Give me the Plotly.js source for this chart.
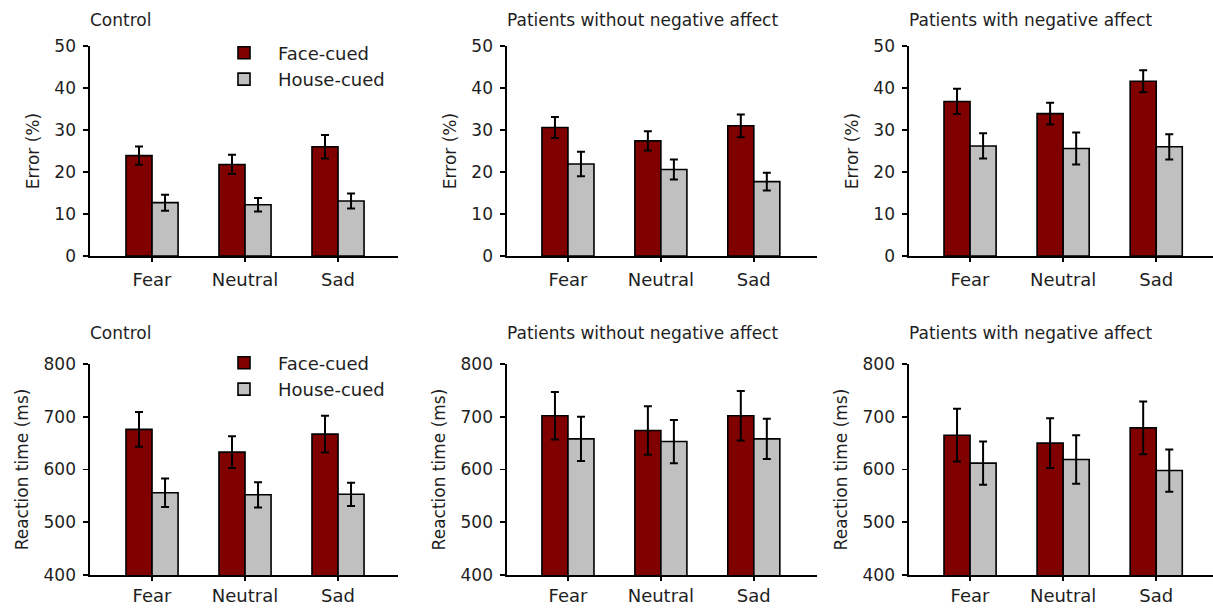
<!DOCTYPE html>
<html>
<head>
<meta charset="utf-8">
<script src="https://cdn.plot.ly/plotly-3.0.1.min.js"></script>
<style>
  html, body { margin: 0; padding: 0; background: #ffffff; }
  #chart { width: 1213px; height: 609px; }
</style>
</head>
<body>
<div id="chart"></div>
<script>
// ---------- data ----------
const categories = ['Fear', 'Neutral', 'Sad'];
const seriesNames = ['Face-cued', 'House-cued'];
const panelTitles = ['Control', 'Patients without negative affect', 'Patients with negative affect'];
const errorTitle = 'Error (%)';
const rtTitle = 'Reaction time (ms)';

const errTicks = [0, 10, 20, 30, 40, 50];
const rtTicks = [400, 500, 600, 700, 800];

// Error (%)
const errCtrlFace = [23.9, 21.8, 26.0];
const errCtrlFaceSE = [2.2, 2.3, 2.8];
const errCtrlHouse = [12.7, 12.2, 13.1];
const errCtrlHouseSE = [1.9, 1.6, 1.8];

const errNoNAFace = [30.6, 27.4, 31.0];
const errNoNAFaceSE = [2.5, 2.3, 2.7];
const errNoNAHouse = [21.9, 20.6, 17.7];
const errNoNAHouseSE = [2.9, 2.4, 2.1];

const errNAFace = [36.8, 33.9, 41.6];
const errNAFaceSE = [3.0, 2.6, 2.6];
const errNAHouse = [26.2, 25.6, 26.0];
const errNAHouseSE = [3.0, 3.8, 3.0];

// Reaction time (ms)
const rtCtrlFace = [676, 633, 667];
const rtCtrlFaceSE = [33, 30, 35];
const rtCtrlHouse = [556, 552, 553];
const rtCtrlHouseSE = [27, 24, 22];

const rtNoNAFace = [702, 674, 702];
const rtNoNAFaceSE = [45, 46, 47];
const rtNoNAHouse = [658, 653, 658];
const rtNoNAHouseSE = [42, 41, 38];

const rtNAFace = [665, 650, 679];
const rtNAFaceSE = [50, 47, 50];
const rtNAHouse = [612, 619, 598];
const rtNAHouseSE = [41, 46, 40];

// ---------- styling ----------
const W = 1213, H = 609;
const FONT = 'DejaVu Sans, Liberation Sans, Arial, sans-serif';
const TXT = '#1e1e1e';
const faceColor = '#800000';
const houseColor = '#c0c0c0';

// panel pixel boxes: [left, right] and [top, bottom]
const colPx = [[90, 398], [507, 817], [909, 1213]];
const xRanges = [[-0.667, 2.645], [-0.656, 2.68], [-0.656, 2.61]];
const rowPx = [[46, 256], [364, 575]];
const catStandoff = [3, 0];

function dom(a, b) { return [a / W, b / W]; }
function ydom(top, bottom) { return [1 - bottom / H, 1 - top / H]; }

const panels = [
  { face: errCtrlFace, faceSE: errCtrlFaceSE, house: errCtrlHouse, houseSE: errCtrlHouseSE, row: 0, col: 0, legend: 'legend' },
  { face: errNoNAFace, faceSE: errNoNAFaceSE, house: errNoNAHouse, houseSE: errNoNAHouseSE, row: 0, col: 1 },
  { face: errNAFace, faceSE: errNAFaceSE, house: errNAHouse, houseSE: errNAHouseSE, row: 0, col: 2 },
  { face: rtCtrlFace, faceSE: rtCtrlFaceSE, house: rtCtrlHouse, houseSE: rtCtrlHouseSE, row: 1, col: 0, legend: 'legend2' },
  { face: rtNoNAFace, faceSE: rtNoNAFaceSE, house: rtNoNAHouse, houseSE: rtNoNAHouseSE, row: 1, col: 1 },
  { face: rtNAFace, faceSE: rtNAFaceSE, house: rtNAHouse, houseSE: rtNAHouseSE, row: 1, col: 2 }
];

const data = [];
const layout = {
  width: W, height: H,
  margin: { l: 0, r: 0, t: 0, b: 0 },
  paper_bgcolor: '#ffffff',
  plot_bgcolor: 'rgba(0,0,0,0)',
  font: { family: FONT, size: 17, color: TXT },
  barmode: 'group',
  bargap: 0.44,
  bargroupgap: 0,
  annotations: [],
  legend: {
    x: 210 / W, xanchor: 'left', y: 1 - 66 / H, yanchor: 'middle',
    bgcolor: 'rgba(0,0,0,0)', font: { family: FONT, size: 18, color: TXT },
    itemwidth: 58, traceorder: 'normal', tracegroupgap: 0
  },
  legend2: {
    x: 210 / W, xanchor: 'left', y: 1 - 376 / H, yanchor: 'middle',
    bgcolor: 'rgba(0,0,0,0)', font: { family: FONT, size: 18, color: TXT },
    itemwidth: 58, traceorder: 'normal', tracegroupgap: 0
  }
};

const errBarStyle = { type: 'data', visible: true, color: '#000000', thickness: 2, width: 4 };

panels.forEach((p, i) => {
  const n = i + 1;
  const xa = n === 1 ? 'x' : 'x' + n;
  const ya = n === 1 ? 'y' : 'y' + n;
  const showLeg = !!p.legend;
  data.push({
    type: 'bar', name: seriesNames[0], x: categories, y: p.face,
    xaxis: xa, yaxis: ya,
    marker: { color: faceColor, line: { color: '#000000', width: 1.6 } },
    error_y: Object.assign({ array: p.faceSE }, errBarStyle),
    showlegend: showLeg, legend: p.legend || 'legend',
    hoverinfo: 'skip'
  });
  data.push({
    type: 'bar', name: seriesNames[1], x: categories, y: p.house,
    xaxis: xa, yaxis: ya,
    marker: { color: houseColor, line: { color: '#000000', width: 1.6 } },
    error_y: Object.assign({ array: p.houseSE }, errBarStyle),
    showlegend: showLeg, legend: p.legend || 'legend',
    hoverinfo: 'skip'
  });

  const isErr = p.row === 0;
  const xKey = n === 1 ? 'xaxis' : 'xaxis' + n;
  const yKey = n === 1 ? 'yaxis' : 'yaxis' + n;
  layout[xKey] = {
    domain: dom(colPx[p.col][0], colPx[p.col][1]),
    anchor: ya,
    type: 'category',
    range: xRanges[p.col],
    showline: true, linecolor: '#000000', linewidth: 1.6,
    ticks: 'outside', ticklen: 4, tickwidth: 1.6, tickcolor: '#000000',
    showgrid: false, zeroline: false,
    tickfont: { family: FONT, size: 18, color: TXT },
    ticklabelstandoff: catStandoff[p.row],
    fixedrange: true
  };
  layout[yKey] = {
    domain: ydom(rowPx[p.row][0], rowPx[p.row][1]),
    anchor: xa,
    range: isErr ? [0, 50] : [400, 800],
    tickvals: isErr ? errTicks : rtTicks,
    showline: true, linecolor: '#000000', linewidth: 1.6,
    ticks: 'outside', ticklen: 5, tickwidth: 1.6, tickcolor: '#000000',
    showgrid: false, zeroline: false,
    tickfont: { family: FONT, size: 17, color: TXT },
    ticklabelstandoff: 4,
    title: { text: isErr ? errorTitle : rtTitle, font: { family: FONT, size: 17, color: TXT }, standoff: 10 },
    fixedrange: true
  };

  layout.annotations.push({
    text: panelTitles[p.col],
    xref: 'paper', yref: 'paper',
    x: (colPx[p.col][0] - 2) / W, xanchor: 'left',
    y: 1 - (p.row === 0 ? 20 : 333) / H, yanchor: 'middle',
    showarrow: false,
    font: { family: FONT, size: 17, color: TXT }
  });
});

Plotly.newPlot('chart', data, layout, { displayModeBar: false, staticPlot: true });
</script>
</body>
</html>
